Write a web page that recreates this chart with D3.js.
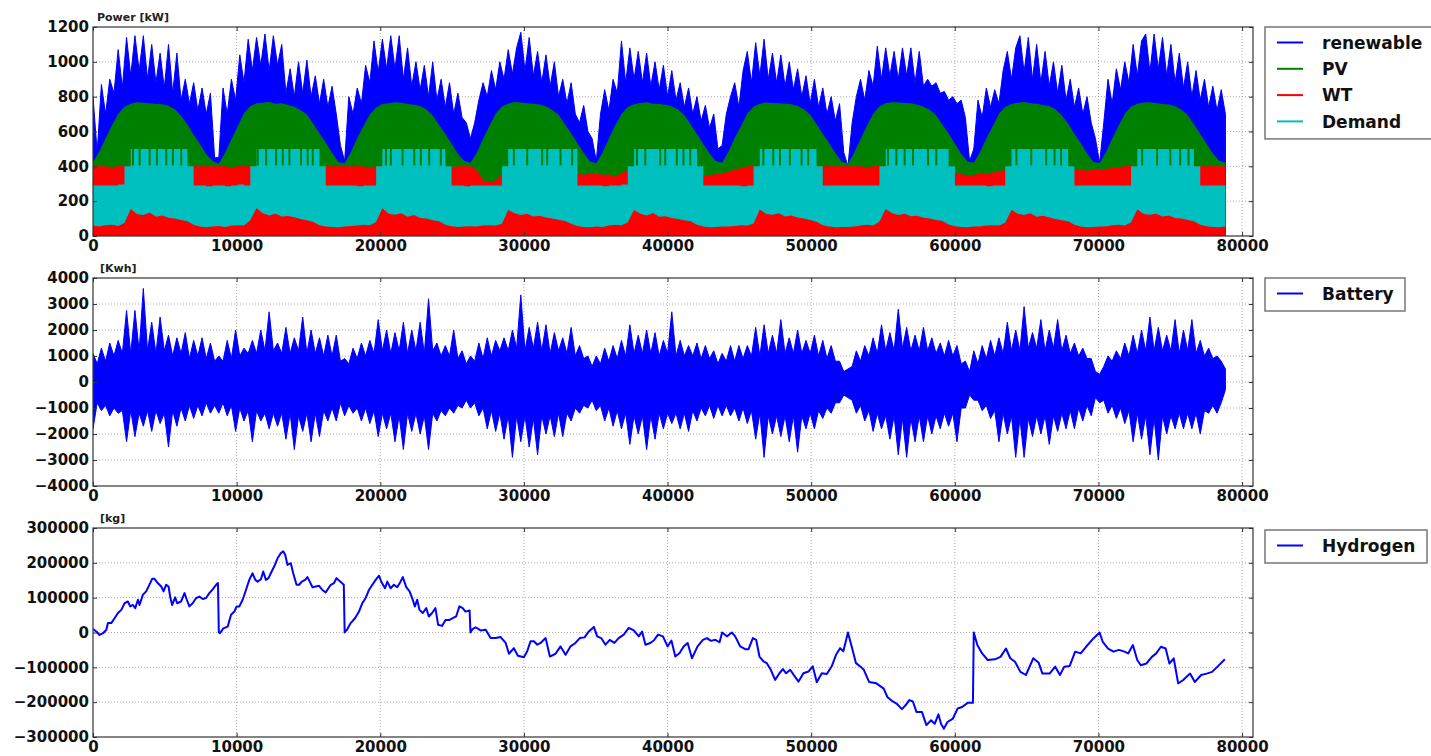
<!DOCTYPE html>
<html>
<head>
<meta charset="utf-8">
<script src="https://cdn.jsdelivr.net/npm/d3@7"></script>
<style>
  body { margin: 0; background: #fff; }
  text { font-family: "DejaVu Sans", sans-serif; }
</style>
</head>
<body>
<svg id="chart" width="1431" height="756"></svg>
<script>
// hours between two samples of the series below
const STEP_FINE = 292;   // renewable, battery
const STEP_COARSE = 438; // PV, WT, demand

const xTicks = [0, 10000, 20000, 30000, 40000, 50000, 60000, 70000, 80000];
const powerTicks = [0, 200, 400, 600, 800, 1000, 1200];
const batteryTicks = [-4000, -3000, -2000, -1000, 0, 1000, 2000, 3000, 4000];
const hydrogenTicks = [-300000, -200000, -100000, 0, 100000, 200000, 300000];

// renewable power, upper envelope [kW] (one row per year)
const renewable = [
  800, 480, 870, 700, 900, 820, 1070, 850, 1140, 920, 1150, 950, 1150, 900, 1100, 880, 1050, 850, 1100, 820, 1050, 780, 900, 760, 880, 720, 850, 700, 820, 450,
  450, 850, 700, 900, 780, 1040, 880, 1130, 950, 1140, 980, 1160, 950, 1150, 980, 1100, 820, 960, 800, 1000, 820, 1010, 800, 920, 760, 900, 740, 860, 700, 520,
  430, 800, 700, 850, 760, 980, 880, 1120, 940, 1130, 960, 1150, 960, 1150, 900, 1080, 860, 1000, 840, 980, 800, 1000, 780, 900, 740, 880, 700, 820, 680, 650,
  560, 650, 780, 880, 800, 950, 840, 1000, 900, 1070, 930, 1080, 1170, 950, 1140, 920, 1060, 880, 1040, 860, 1000, 800, 900, 760, 880, 700, 650, 750, 600, 560,
  430, 700, 840, 720, 900, 820, 1120, 880, 1080, 900, 1060, 880, 1050, 860, 1000, 840, 980, 800, 950, 780, 880, 740, 850, 700, 800, 660, 750, 620, 700, 500,
  520, 700, 800, 880, 740, 950, 1060, 880, 1110, 920, 1130, 900, 1050, 880, 1040, 860, 1000, 840, 960, 800, 920, 760, 900, 740, 850, 700, 800, 660, 760, 480,
  400, 650, 800, 900, 780, 950, 860, 1090, 900, 1080, 920, 1060, 900, 1080, 920, 1080, 880, 1060, 860, 900, 860, 880, 820, 830, 780, 800, 760, 780, 680, 430,
  500, 780, 680, 850, 740, 840, 760, 950, 1060, 900, 1080, 1150, 940, 1140, 900, 1100, 880, 1060, 860, 1000, 820, 980, 780, 900, 740, 850, 700, 800, 650, 560,
  420, 650, 900, 760, 960, 840, 1000, 880, 1100, 920, 1120, 1160, 940, 1160, 960, 1140, 920, 1100, 880, 1050, 850, 1000, 800, 950, 780, 900, 740, 860, 720, 840, 700
];

// PV power, upper envelope [kW]
const pv = [
  425, 485, 560, 635, 700, 742, 760, 768, 765, 762, 758, 756, 748, 728, 690, 640, 582, 528, 470, 432,
  415, 478, 555, 628, 705, 745, 762, 765, 770, 760, 762, 752, 742, 722, 698, 645, 588, 535, 478, 425,
  418, 482, 562, 632, 698, 738, 758, 762, 768, 765, 758, 754, 746, 726, 692, 638, 585, 530, 472, 430,
  420, 476, 558, 630, 702, 744, 760, 770, 766, 762, 760, 755, 744, 724, 696, 642, 590, 532, 476, 428,
  418, 480, 560, 634, 700, 740, 756, 764, 768, 760, 758, 753, 745, 726, 694, 640, 584, 528, 474, 430,
  420, 484, 562, 630, 704, 742, 760, 766, 764, 762, 760, 756, 746, 728, 696, 642, 586, 534, 476, 426,
  416, 478, 556, 632, 700, 744, 762, 768, 766, 764, 762, 754, 744, 724, 694, 640, 588, 530, 472, 428,
  420, 482, 560, 628, 702, 740, 758, 765, 770, 762, 760, 752, 746, 726, 692, 644, 586, 532, 474, 426,
  418, 480, 558, 632, 700, 742, 760, 766, 768, 762, 758, 755, 745, 725, 695, 640, 585, 530, 475, 432, 420
];

// WT power, upper envelope [kW]
const wt = [
  400, 400, 400, 395, 400, 400, 400, 400, 400, 400, 400, 400, 400, 400, 400, 390, 400, 400, 400, 400,
  400, 400, 395, 400, 400, 400, 400, 400, 400, 400, 400, 400, 400, 400, 400, 400, 380, 400, 400, 400,
  400, 400, 400, 400, 390, 400, 400, 400, 400, 400, 400, 400, 400, 400, 400, 400, 400, 395, 400, 400,
  400, 380, 320, 310, 315, 360, 400, 400, 400, 400, 400, 400, 400, 400, 400, 400, 380, 360, 350, 360,
  360, 350, 355, 340, 360, 380, 400, 400, 400, 400, 400, 400, 400, 400, 400, 380, 350, 345, 350, 355,
  360, 370, 380, 390, 400, 400, 400, 400, 400, 400, 400, 400, 400, 400, 400, 400, 400, 400, 400, 400,
  400, 400, 400, 395, 400, 400, 400, 400, 400, 400, 400, 400, 400, 400, 400, 380, 370, 360, 355, 350,
  350, 360, 355, 365, 370, 380, 400, 400, 400, 400, 400, 400, 400, 400, 400, 390, 380, 380, 375, 380,
  380, 385, 390, 395, 400, 400, 400, 400, 400, 400, 400, 400, 400, 400, 400, 400, 400, 400, 400, 400, 400
];

// demand, lower envelope [kW]
const demandLow = [
  60, 55, 62, 65, 58, 75, 155, 125, 120, 135, 110, 118, 105, 100, 92, 85, 65, 55, 50, 55,
  58, 52, 60, 62, 60, 90, 160, 130, 118, 128, 112, 115, 108, 98, 90, 80, 62, 55, 52, 50,
  55, 58, 60, 64, 62, 80, 160, 128, 122, 130, 110, 120, 104, 100, 90, 84, 64, 56, 52, 55,
  56, 54, 60, 62, 60, 70, 150, 130, 120, 128, 112, 116, 106, 100, 94, 86, 70, 58, 52, 50,
  55, 52, 60, 65, 62, 78, 150, 128, 118, 132, 110, 114, 104, 98, 90, 84, 64, 54, 50, 52,
  54, 55, 58, 62, 60, 72, 152, 126, 122, 130, 112, 118, 106, 100, 92, 82, 62, 55, 50, 52,
  52, 55, 60, 64, 60, 82, 155, 130, 120, 128, 114, 116, 105, 100, 92, 86, 66, 56, 52, 50,
  55, 54, 60, 62, 60, 76, 150, 128, 120, 130, 110, 116, 106, 98, 90, 84, 64, 55, 50, 52,
  54, 55, 62, 64, 60, 78, 152, 126, 122, 128, 112, 118, 104, 100, 92, 85, 65, 56, 52, 50, 55
];

// demand, upper envelope [kW]
const demandHigh = [
  290, 290, 290, 290, 295, 400, 500, 500, 500, 500, 500, 500, 500, 500, 500, 400, 290, 290, 285, 290,
  290, 285, 290, 295, 290, 400, 500, 500, 500, 500, 500, 500, 500, 500, 500, 500, 400, 290, 290, 290,
  290, 290, 285, 290, 290, 400, 500, 500, 500, 500, 500, 500, 500, 500, 500, 500, 400, 290, 290, 285,
  290, 290, 290, 290, 290, 400, 500, 500, 500, 500, 500, 500, 500, 500, 500, 500, 500, 290, 290, 290,
  290, 285, 290, 290, 295, 400, 500, 500, 500, 500, 500, 500, 500, 500, 500, 500, 400, 290, 290, 290,
  290, 290, 290, 285, 290, 400, 500, 500, 500, 500, 500, 500, 500, 500, 500, 400, 290, 290, 290, 290,
  290, 290, 290, 290, 290, 400, 500, 500, 500, 500, 500, 500, 500, 500, 500, 500, 400, 290, 290, 290,
  290, 290, 285, 290, 290, 400, 500, 500, 500, 500, 500, 500, 500, 500, 500, 400, 290, 290, 290, 290,
  290, 290, 290, 290, 290, 400, 500, 500, 500, 500, 500, 500, 500, 500, 500, 400, 290, 290, 290, 290, 290
];

// hours where summer demand dips from 500 to ~400
const demandDips = [
  2784, 3247, 3942, 4452, 5100, 5564, 6143,
  11473, 12052, 12747, 13211, 13674, 14485, 14948, 15296,
  20393, 20740, 21551, 22362, 22825, 23405, 24216,
  29300, 30230, 31270, 31620, 32550, 33360,
  37870, 38450, 39490, 39840, 40650, 41110, 41580,
  46670, 47360, 47830, 48520, 49330, 49790,
  55350, 55930, 56510, 57090, 58130, 58710,
  64290, 65320, 66360, 66940, 67400,
  73040, 74080, 75000, 75690, 76270
];

// battery, upper and lower envelope [kWh]
const batteryHigh = [
  1100, 700, 1300, 800, 1500, 1000, 1600, 1100, 2750, 1100, 2750, 1200, 3600, 1200, 2300, 1100, 2500, 1200, 1800, 1000, 1700, 1100, 1900, 900, 1600, 1000, 1700, 900, 1500, 800,
  1000, 800, 1600, 900, 2000, 1000, 1300, 1100, 1600, 1100, 2000, 1200, 2700, 1200, 1500, 1100, 2100, 1100, 1700, 1200, 2500, 1100, 2000, 1100, 1700, 1000, 1800, 1000, 1800, 800,
  900, 700, 1300, 900, 1500, 1000, 1600, 1100, 2400, 1200, 2000, 1100, 1900, 1200, 2300, 1100, 2000, 1200, 2300, 1100, 3200, 1200, 1500, 1000, 1400, 1000, 2000, 900, 1200, 700,
  1000, 800, 1500, 900, 1700, 1000, 1600, 1200, 1700, 1200, 2000, 1300, 3350, 1200, 2100, 1300, 2300, 1200, 2200, 1100, 1900, 1200, 1700, 1100, 2100, 1000, 1400, 900, 1000, 600,
  1000, 700, 1300, 800, 1400, 900, 1600, 1000, 2200, 1100, 1800, 1100, 2000, 1100, 1900, 1000, 1600, 1100, 2700, 1000, 1600, 1000, 1400, 1000, 1500, 900, 1400, 900, 1200, 700,
  1100, 800, 1400, 800, 1400, 900, 1400, 1000, 2100, 1000, 2200, 1100, 1800, 1100, 2400, 1100, 1700, 1100, 2000, 1100, 1600, 1100, 1800, 1000, 1600, 900, 1400, 800, 800, 400,
  500, 600, 1200, 800, 1400, 1000, 1700, 1100, 2200, 1200, 1900, 1200, 2800, 1300, 2100, 1200, 1800, 1200, 2100, 1200, 1700, 1100, 1500, 1000, 1600, 1000, 1400, 700, 800, 400,
  1200, 700, 1400, 900, 1600, 1000, 1700, 1100, 2300, 1200, 2000, 1200, 2900, 1300, 1900, 1300, 2400, 1200, 2000, 1300, 2400, 1200, 1800, 1100, 1500, 1000, 1300, 900, 900, 400,
  300, 600, 1000, 800, 1200, 900, 1500, 1000, 1800, 1100, 2000, 1200, 2500, 1200, 2100, 1200, 1800, 1200, 2400, 1100, 2000, 1200, 2400, 1100, 1600, 1000, 1300, 900, 1000, 800, 500
];
const batteryLow = [
  -1800, -800, -1100, -900, -1300, -1000, -1200, -1100, -2300, -1100, -2100, -1200, -1700, -1100, -1900, -1100, -1600, -1200, -2500, -1100, -1700, -1000, -1500, -900, -1400, -900, -1300, -800, -1200, -900,
  -1200, -800, -1300, -900, -1900, -1000, -1500, -1100, -2300, -1100, -1500, -1200, -1800, -1200, -1700, -1200, -2200, -1200, -2600, -1300, -1900, -1200, -2300, -1200, -2100, -1100, -1500, -1000, -1500, -800,
  -1300, -900, -1200, -1000, -1500, -1000, -1600, -1100, -2100, -1200, -1800, -1200, -2300, -1300, -2600, -1200, -1900, -1200, -2000, -1300, -2600, -1200, -1500, -1100, -1300, -1000, -1200, -900, -1000, -700,
  -1000, -800, -1300, -1000, -1800, -1100, -1900, -1200, -2200, -1300, -2900, -1300, -2300, -1300, -2500, -1400, -2800, -1300, -2000, -1300, -2100, -1200, -2100, -1200, -1500, -1000, -1200, -900, -1000, -700,
  -1100, -900, -1500, -1000, -1700, -1100, -1800, -1200, -2400, -1300, -2000, -1300, -2600, -1300, -2200, -1200, -1800, -1200, -1600, -1200, -1800, -1200, -1900, -1100, -1500, -1000, -1300, -900, -1400, -900,
  -1300, -900, -1300, -1000, -1500, -1000, -1600, -1100, -2200, -1200, -2900, -1300, -2000, -1300, -2100, -1300, -2300, -1300, -2700, -1300, -1800, -1200, -1800, -1100, -1400, -1000, -1200, -800, -800, -500,
  -600, -700, -1200, -900, -1500, -1100, -1900, -1200, -1800, -1300, -2200, -1300, -2800, -1400, -2900, -1400, -2300, -1300, -2300, -1300, -2000, -1300, -1800, -1200, -1700, -1200, -2300, -1000, -1000, -500,
  -700, -700, -1100, -900, -1400, -1100, -2300, -1200, -2000, -1300, -2900, -1400, -2900, -1400, -2100, -1300, -2000, -1300, -2400, -1300, -1900, -1200, -1800, -1100, -1800, -1000, -1500, -900, -1300, -600,
  -800, -700, -1200, -900, -1400, -1000, -1600, -1100, -2300, -1200, -2200, -1300, -2800, -1400, -3000, -1300, -2000, -1300, -1800, -1200, -1800, -1200, -1800, -1200, -2000, -1100, -1200, -900, -1200, -800, -300
];

// hydrogen storage [kg]
const hydrogenHours = [
  0, 230, 460, 700, 930, 1040, 1270, 1500, 1740, 1970, 2200, 2430, 2590, 2780, 2940, 3130, 3240, 3470, 3700, 3890,
  4120, 4280, 4510, 4750, 4910, 5090, 5260, 5370, 5510, 5720, 5860, 6130, 6370, 6530, 6710, 6940, 7180, 7410, 7640, 7870,
  8100, 8330, 8570, 8700, 8760, 8840, 9070, 9380, 9610, 9840, 10000, 10190, 10420, 10650, 10880, 11110, 11300, 11460, 11690, 11850,
  12040, 12220, 12380, 12620, 12850, 13080, 13240, 13380, 13540, 13770, 13940, 14170, 14350, 14540, 14770, 14930, 15090, 15280, 15510, 15740,
  15970, 16200, 16390, 16550, 16780, 16950, 17130, 17460, 17520, 17710, 17940, 18240, 18520, 18750, 18980, 19210, 19450, 19680, 19910, 20090,
  20330, 20490, 20720, 20950, 21180, 21410, 21570, 21810, 22040, 22220, 22410, 22570, 22730, 22960, 23200, 23380, 23610, 23840, 24030, 24300,
  24540, 24820, 25050, 25280, 25510, 25740, 25930, 26220, 26280, 26420, 26640, 26990, 27340, 27680, 28030, 28380, 28730, 28960, 29300, 29580,
  30000, 30230, 30460, 30700, 30930, 31160, 31510, 31810, 32200, 32550, 32900, 33240, 33590, 33890, 34220, 34520, 34870, 35100, 35380, 35680,
  35980, 36300, 36600, 36950, 37300, 37650, 38000, 38230, 38460, 38800, 39040, 39340, 39680, 40000, 40270, 40540, 40840, 41120, 41400, 41700,
  42090, 42460, 42740, 43020, 43320, 43620, 43800, 44130, 44480, 44710, 45060, 45410, 45640, 45940, 46170, 46400, 46680, 46910, 47190, 47490,
  47790, 48030, 48260, 48540, 48770, 49120, 49460, 49810, 50110, 50390, 50740, 51090, 51430, 51730, 52010, 52240, 52560, 52820, 53120, 53400,
  53650, 54030, 54540, 55050, 55300, 55680, 55940, 56320, 56570, 56830, 57080, 57330, 57710, 58020, 58350, 58600, 58860, 59040, 59240, 59490,
  59870, 60200, 60510, 60890, 61260, 61320, 61570, 61900, 62290, 62790, 63180, 63560, 63860, 64190, 64570, 64950, 65460, 65840, 66100, 66600,
  66990, 67320, 67620, 68000, 68380, 68760, 69140, 69650, 70080, 70290, 70670, 71050, 71430, 71810, 72070, 72400, 72700, 72950, 73340, 73720,
  74020, 74350, 74680, 74940, 75240, 75550, 75880, 76380, 76710, 77150, 77530, 77910, 78290, 78800
];
const hydrogenValues = [
  9600, 3000, -7000, -2000, 8000, 27000, 27000, 41000, 56000, 65000, 84000, 89000, 75000, 79000, 70000, 94000, 79000, 108000, 118000, 134000,
  154000, 154000, 142000, 132000, 118000, 137000, 132000, 103000, 79000, 101000, 84000, 89000, 113000, 94000, 75000, 84000, 99000, 103000, 96000, 99000,
  113000, 124000, 137000, 142000, 0, -2000, 12000, 17000, 51000, 60000, 75000, 75000, 94000, 122000, 151000, 170000, 151000, 146000, 153000, 175000,
  151000, 156000, 170000, 190000, 213000, 228000, 233000, 223000, 194000, 199000, 170000, 137000, 137000, 146000, 151000, 159000, 146000, 130000, 132000, 134000,
  122000, 115000, 127000, 137000, 142000, 156000, 149000, 137000, 0, 10000, 27000, 41000, 60000, 84000, 99000, 122000, 137000, 151000, 163000, 144000,
  127000, 146000, 127000, 137000, 130000, 146000, 159000, 130000, 118000, 99000, 75000, 94000, 65000, 56000, 70000, 46000, 56000, 70000, 22000, 19000,
  36000, 36000, 41000, 46000, 75000, 70000, 60000, 63000, 0, 10000, 15000, 6000, 8000, -16000, -16000, -13000, -30000, -61000, -45000, -67000,
  -71000, -54000, -25000, -25000, -35000, -30000, -16000, -69000, -61000, -40000, -64000, -40000, -30000, -16000, -14000, 3000, 16000, -11000, -16000, -35000,
  -21000, -30000, -16000, -6000, 13000, 6000, -11000, 3000, -35000, -30000, -23000, -6000, -11000, -40000, -23000, -69000, -59000, -40000, -30000, -74000,
  -40000, -21000, -16000, -24000, -21000, -28000, 0, -11000, 0, -11000, -40000, -48000, -48000, -16000, -21000, -69000, -83000, -88000, -107000, -136000,
  -117000, -105000, -117000, -107000, -121000, -141000, -117000, -112000, -97000, -143000, -117000, -119000, -97000, -64000, -45000, -54000, 0, -40000, -88000, -97000,
  -106000, -142000, -146000, -161000, -185000, -198000, -204000, -220000, -209000, -194000, -198000, -228000, -228000, -266000, -252000, -262000, -235000, -262000, -276000, -257000,
  -247000, -218000, -214000, -202000, -202000, 0, -36000, -60000, -79000, -77000, -70000, -46000, -74000, -84000, -113000, -122000, -74000, -87000, -118000, -118000,
  -98000, -122000, -98000, -96000, -55000, -60000, -41000, -17000, 0, -26000, -46000, -55000, -50000, -55000, -60000, -36000, -79000, -94000, -89000, -70000,
  -60000, -41000, -46000, -89000, -74000, -146000, -137000, -118000, -142000, -122000, -118000, -113000, -98000, -77000
];

const BLUE = '#0000ff', GREEN = '#008000', RED = '#ff0000', CYAN = '#00bfbf';

const svg = d3.select('#chart');
svg.append('rect').attr('width', 1431).attr('height', 756).attr('fill', '#fff');

const x = d3.scaleLinear().domain([0, 80760]).range([93, 1253]);

const panels = [
  { top: 27, bottom: 236, domain: [0, 1200], ticks: powerTicks, label: 'Power [kW]', labelX: 97 },
  { top: 278, bottom: 486, domain: [-4000, 4000], ticks: batteryTicks, label: '[Kwh]', labelX: 100 },
  { top: 528, bottom: 737, domain: [-300000, 300000], ticks: hydrogenTicks, label: '[kg]', labelX: 100 }
];

panels.forEach((p, k) => {
  p.y = d3.scaleLinear().domain(p.domain).range([p.bottom, p.top]);
  p.g = svg.append('g');
  svg.append('clipPath').attr('id', 'clip' + k)
    .append('rect')
    .attr('x', x.range()[0]).attr('y', p.top)
    .attr('width', x.range()[1] - x.range()[0]).attr('height', p.bottom - p.top);

  // dotted grid
  p.g.selectAll('.vgrid').data(xTicks.slice(1)).enter().append('line')
    .attr('x1', d => x(d)).attr('x2', d => x(d))
    .attr('y1', p.top).attr('y2', p.bottom)
    .attr('stroke', '#999').attr('stroke-width', 0.8).attr('stroke-dasharray', '1,2');
  p.g.selectAll('.hgrid').data(p.ticks.slice(1, -1)).enter().append('line')
    .attr('x1', x.range()[0]).attr('x2', x.range()[1])
    .attr('y1', d => p.y(d)).attr('y2', d => p.y(d))
    .attr('stroke', '#999').attr('stroke-width', 0.8).attr('stroke-dasharray', '1,2');

  p.plot = p.g.append('g').attr('clip-path', `url(#clip${k})`);
});

// ---- power panel ----
const yP = panels[0].y;
const plotP = panels[0].plot;

plotP.append('path').datum(renewable)
  .attr('fill', BLUE).attr('stroke', BLUE).attr('stroke-width', 1)
  .attr('d', d3.area().x((d, i) => x(i * STEP_FINE)).y0(yP(0)).y1(d => yP(d)));

plotP.append('path').datum(pv)
  .attr('fill', GREEN)
  .attr('d', d3.area().x((d, i) => x(i * STEP_COARSE)).y0(yP(0)).y1(d => yP(d)));

plotP.append('path').datum(wt)
  .attr('fill', RED)
  .attr('d', d3.area().x((d, i) => x(i * STEP_COARSE)).y0(yP(0)).y1(d => yP(d)));

const demandTop = d3.line().x((d, i) => x(i * STEP_COARSE)).y(d => yP(d)).curve(d3.curveStepAfter)(demandHigh);
const demandBottom = d3.line()(demandLow.map((d, i) => [x(i * STEP_COARSE), yP(d)]).reverse());
plotP.append('path')
  .attr('fill', CYAN)
  .attr('d', demandTop + demandBottom.replace('M', 'L') + 'Z');

plotP.selectAll('.dip').data(demandDips).enter().append('line')
  .attr('x1', d => x(d)).attr('x2', d => x(d))
  .attr('y1', yP(405)).attr('y2', yP(500))
  .attr('stroke', GREEN).attr('stroke-width', 2);

// ---- battery panel ----
const yB = panels[1].y;
panels[1].plot.append('path').datum(d3.range(batteryHigh.length))
  .attr('fill', BLUE).attr('stroke', BLUE).attr('stroke-width', 1)
  .attr('d', d3.area()
    .x(i => x(i * STEP_FINE))
    .y0(i => yB(batteryLow[i]))
    .y1(i => yB(batteryHigh[i])));

// ---- hydrogen panel ----
const yH = panels[2].y;
panels[2].plot.append('path').datum(d3.range(hydrogenHours.length))
  .attr('fill', 'none')
  .attr('stroke', BLUE).attr('stroke-width', 2).attr('stroke-linejoin', 'round')
  .attr('d', d3.line().x(i => x(hydrogenHours[i])).y(i => yH(hydrogenValues[i])));

// ---- axes, frames, labels ----
panels.forEach(p => {
  const styleAxis = a => {
    a.select('.domain').remove();
    a.selectAll('line').attr('stroke', '#333');
    a.selectAll('text')
      .attr('font-family', '"DejaVu Sans", sans-serif')
      .attr('font-size', 15).attr('font-weight', 'bold').attr('fill', '#111');
  };
  svg.append('g').attr('transform', `translate(0,${p.bottom})`)
    .call(d3.axisBottom(x).tickValues(xTicks).tickSize(-4).tickPadding(4).tickFormat(d3.format('d')))
    .call(styleAxis);
  svg.append('g').attr('transform', `translate(0,${p.top})`)
    .call(d3.axisTop(x).tickValues(xTicks).tickSize(-4).tickFormat(''))
    .call(styleAxis);
  svg.append('g').attr('transform', `translate(${x.range()[0]},0)`)
    .call(d3.axisLeft(p.y).tickValues(p.ticks).tickSize(-4).tickPadding(4).tickFormat(d3.format('d')))
    .call(styleAxis);
  svg.append('g').attr('transform', `translate(${x.range()[1]},0)`)
    .call(d3.axisRight(p.y).tickValues(p.ticks).tickSize(-4).tickFormat(''))
    .call(styleAxis);

  svg.append('rect')
    .attr('x', x.range()[0]).attr('y', p.top)
    .attr('width', x.range()[1] - x.range()[0]).attr('height', p.bottom - p.top)
    .attr('fill', 'none').attr('stroke', '#333').attr('stroke-width', 1.2);

  svg.append('text')
    .attr('x', p.labelX).attr('y', p.top - 6)
    .attr('font-size', 11).attr('font-weight', 'bold').attr('fill', '#222')
    .text(p.label);
});

// ---- legends ----
function legend(top, entries, width) {
  const g = svg.append('g');
  const h = 33 + (entries.length - 1) * 26.3;
  g.append('rect')
    .attr('x', 1265).attr('y', top).attr('width', width).attr('height', h)
    .attr('fill', '#fff').attr('stroke', '#777').attr('stroke-width', 1.5);
  entries.forEach((e, i) => {
    const cy = top + 15.5 + i * 26.3;
    g.append('line').attr('x1', 1277).attr('x2', 1303).attr('y1', cy).attr('y2', cy)
      .attr('stroke', e.color).attr('stroke-width', 2);
    g.append('text').attr('x', 1322).attr('y', cy).attr('dy', '0.36em')
      .attr('font-size', 17).attr('font-weight', 'bold').attr('fill', '#111')
      .text(e.name);
  });
}
legend(27, [
  { name: 'renewable', color: BLUE },
  { name: 'PV', color: GREEN },
  { name: 'WT', color: RED },
  { name: 'Demand', color: CYAN }
], 170);
legend(278, [{ name: 'Battery', color: BLUE }], 140);
legend(530, [{ name: 'Hydrogen', color: BLUE }], 162);
</script>
</body>
</html>
